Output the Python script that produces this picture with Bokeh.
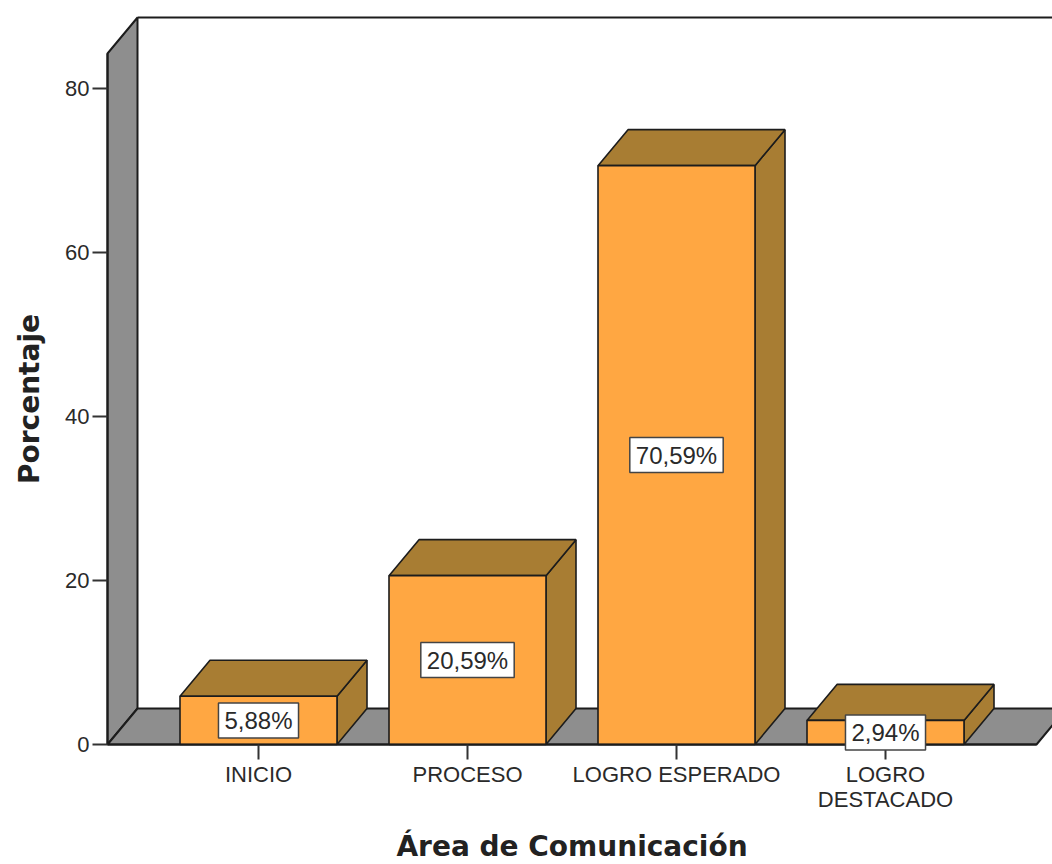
import math
from bokeh.plotting import figure
from bokeh.models import FixedTicker, Range1d, Label
from bokeh.embed import file_html
from bokeh.resources import INLINE

categories = ["INICIO", "PROCESO", "LOGRO ESPERADO", "LOGRO\nDESTACADO"]
percent = [5.88, 20.59, 70.59, 2.94]
value_labels = ["5,88%", "20,59%", "70,59%", "2,94%"]
y_ticks = [0, 20, 40, 60, 80]
x_title = "Área de Comunicación"
y_title = "Porcentaje"

PX_X = 209.0
PX_Y = 8.2
W, H = 1052, 864
left_px, base_px = 107, 744
x0 = 1 - 151 / PX_X
x_start = 1 - 258 / PX_X
x_end = x_start + W / PX_X
y_start = -(H - base_px) / PX_Y
y_end = base_px / PX_Y
DX = 30 / PX_X
DY = 36 / PX_Y
HALF = 78.5 / PX_X
WALL = 84.27
FLOOR_END = x0 + 929 / PX_X

FRONT = "#FFA742"
SHADE = "#A87D33"
GREY = "#8E8E8E"
INK = "#1C1C1C"

p = figure(width=W, height=H, output_backend="svg", toolbar_location=None,
           x_range=Range1d(x_start, x_end), y_range=Range1d(y_start, y_end),
           min_border_left=0, min_border_bottom=0, min_border_top=0, min_border_right=0,
           outline_line_color=None, background_fill_color="white", border_fill_color="white")
p.grid.visible = False

# walls and floor
p.patch([x0, x0 + DX, x0 + DX, x0], [0, DY, WALL + DY, WALL], fill_color=GREY, line_color=INK, line_width=2)
p.patch([x0, x0 + DX, FLOOR_END + DX, FLOOR_END], [0, DY, DY, 0], fill_color=GREY, line_color=INK, line_width=2)
p.line([x0 + DX, x_end], [WALL + DY, WALL + DY], line_color=INK, line_width=2)

# bars
xs = [i + 1 for i in range(len(percent))]
for x, v in zip(xs, percent):
    l, r = x - HALF, x + HALF
    p.patch([r, r + DX, r + DX, r], [0, DY, v + DY, v], fill_color=SHADE, line_color=INK, line_width=1.6)
    p.patch([l, l + DX, r + DX, r], [v, v + DY, v + DY, v], fill_color=SHADE, line_color=INK, line_width=1.6)
    p.quad(left=[l], right=[r], bottom=[0], top=[v], fill_color=FRONT, line_color=INK, line_width=1.6)

for x, v, s in zip(xs, percent, value_labels):
    p.add_layout(Label(x=x, y=v / 2, text=s, text_align="center", text_baseline="middle",
                       text_font="Liberation Sans", text_font_size="24px", text_color="#2A2A2A",
                       background_fill_color="white", border_line_color="#444444", border_line_width=1.5,
                       padding=(6, 4)))

xa = p.xaxis[0]
xa.fixed_location = 0
xa.ticker = FixedTicker(ticks=xs)
xa.major_label_overrides = dict(zip(xs, categories))
xa.bounds = (x0, FLOOR_END)
xa.axis_line_color = INK
xa.axis_line_width = 2
xa.major_tick_in = 0
xa.major_tick_out = 15
xa.major_tick_line_color = "#333333"
xa.major_tick_line_width = 2
xa.minor_tick_line_color = None
xa.major_label_standoff = 2
xa.major_label_text_font = "Liberation Sans"
xa.major_label_text_font_size = "22px"
xa.major_label_text_color = "#2A2A2A"
xa.major_label_text_line_height = 1.0

ya = p.yaxis[0]
ya.fixed_location = x0
ya.ticker = FixedTicker(ticks=y_ticks)
ya.bounds = (0, WALL)
ya.axis_line_color = INK
ya.axis_line_width = 2
ya.major_tick_in = 0
ya.major_tick_out = 15
ya.major_tick_line_color = "#333333"
ya.major_tick_line_width = 2
ya.minor_tick_line_color = None
ya.major_label_standoff = 3
ya.major_label_text_font = "Liberation Sans"
ya.major_label_text_font_size = "22px"
ya.major_label_text_color = "#2A2A2A"

p.add_layout(Label(x=(x0 + FLOOR_END) / 2, y=-102 / PX_Y, text=x_title,
                   text_align="center", text_baseline="middle", text_font="DejaVu Sans",
                   text_font_style="bold", text_font_size="28px", text_color="#222222"))
p.add_layout(Label(x=x0 - 78 / PX_X, y=WALL / 2, text=y_title, angle=math.pi / 2,
                   text_align="center", text_baseline="middle", text_font="DejaVu Sans",
                   text_font_style="bold", text_font_size="28px", text_color="#222222"))

open("out.html", "w").write(file_html(p, INLINE))
